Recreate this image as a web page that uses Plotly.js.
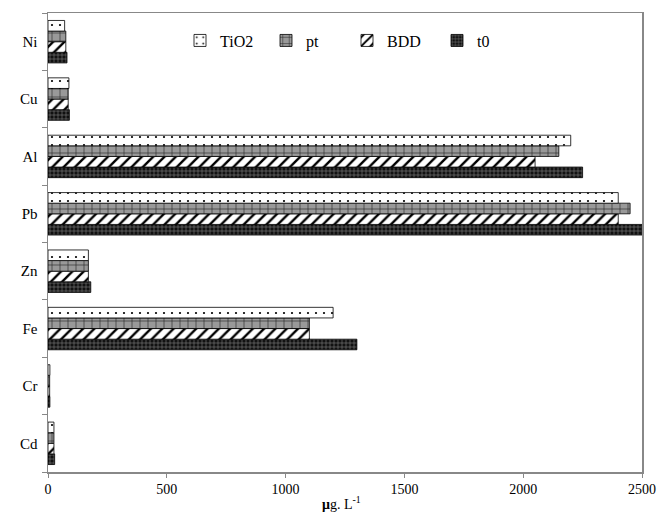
<!DOCTYPE html>
<html>
<head>
<meta charset="utf-8">
<script src="https://cdn.plot.ly/plotly-3.0.1.min.js"></script>
<style>html,body{margin:0;padding:0;background:#fff}#chart{width:670px;height:514px}</style>
</head>
<body>
<div id="chart"></div>
<script>
// Categories listed bottom to top
const metals = ["Cd", "Cr", "Fe", "Zn", "Pb", "Al", "Cu", "Ni"];
const tio2 = [25, 8, 1200, 170, 2400, 2200, 88, 70];
const pt   = [25, 7, 1100, 170, 2450, 2150, 85, 75];
const bdd  = [25, 7, 1100, 170, 2400, 2050, 85, 75];
const t0   = [28, 8, 1300, 180, 2500, 2250, 90, 80];
const xTicks = [0, 500, 1000, 1500, 2000, 2500];

const serif = "Liberation Serif";
function bar(name, vals, color, pattern, legendId) {
  return {
    type: "bar", orientation: "h", name: name, y: metals, x: vals,
    legend: legendId,
    marker: { color: color, pattern: pattern, line: { color: "#000", width: 0.8 } },
    hoverinfo: "skip"
  };
}
const data = [
  bar("t0", t0, "#111", { shape: "+", bgcolor: "#111", fgcolor: "#fff", size: 4, solidity: 0.25, fillmode: "overlay" }, "legend4"),
  bar("BDD", bdd, "#fff", { shape: "/", bgcolor: "#fff", fgcolor: "#000", size: 8, solidity: 0.3 }, "legend3"),
  bar("pt", pt, "#999", { shape: "+", bgcolor: "#999", fgcolor: "#222", size: 8, solidity: 0.15 }, "legend2"),
  bar("TiO2", tio2, "#fff", { shape: ".", bgcolor: "#fff", fgcolor: "#000", size: 8, solidity: 0.06 }, "legend")
];

function leg(xpx) {
  return {
    orientation: "h", x: (xpx - 48) / 594, y: 0.94, xanchor: "left", yanchor: "middle",
    font: { family: serif, size: 16, color: "#000" },
    bgcolor: "rgba(255,255,255,0)", itemwidth: 30
  };
}

const layout = {
  width: 670, height: 514,
  margin: { l: 48, r: 28, t: 13, b: 42 },
  paper_bgcolor: "#fff", plot_bgcolor: "#fff",
  barmode: "group", bargap: 0.26, bargroupgap: 0,
  font: { family: serif, size: 13, color: "#000" },
  showlegend: true,
  legend: leg(180), legend2: leg(266), legend3: leg(347), legend4: leg(437),
  xaxis: {
    range: [0, 2500], tickvals: xTicks, ticktext: xTicks.map(String),
    showgrid: false, zeroline: false,
    showline: true, linecolor: "#888", linewidth: 1.5, mirror: true,
    ticks: "outside", ticklen: 4, tickcolor: "#888",
    tickfont: { family: serif, size: 14 }
  },
  yaxis: {
    categoryorder: "array", categoryarray: metals,
    showgrid: false, zeroline: false,
    showline: true, linecolor: "#888", linewidth: 1.5, mirror: true,
    ticks: "outside", ticklen: 5, tickcolor: "#888", tickson: "boundaries",
    tickfont: { family: serif, size: 15 }, ticklabelstandoff: 6
  },
  annotations: [{
    xref: "paper", yref: "paper", x: 0.494, y: 0, yshift: -20,
    xanchor: "center", yanchor: "top", showarrow: false,
    text: "<b>μ</b>g. L<sup>-1</sup>",
    font: { family: serif, size: 14, color: "#000" }
  }]
};
Plotly.newPlot("chart", data, layout, { staticPlot: true, displayModeBar: false });
</script>
</body>
</html>
